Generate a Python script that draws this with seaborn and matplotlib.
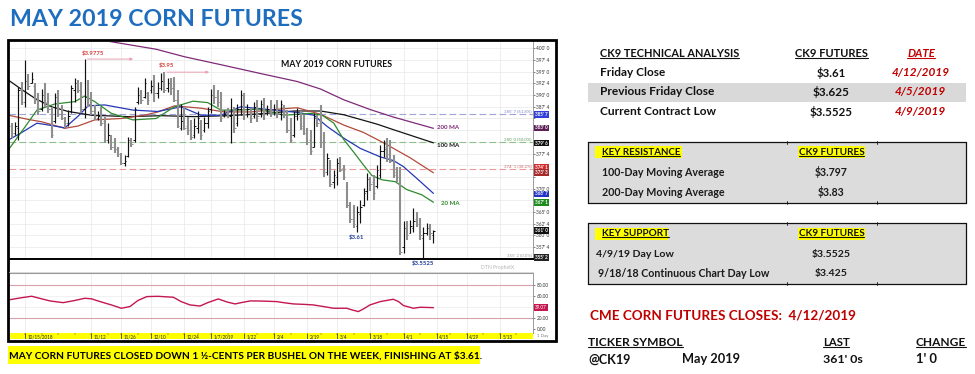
import numpy as np
import pandas as pd
import matplotlib.pyplot as plt
import seaborn as sns
from matplotlib.lines import Line2D
from matplotlib.patches import Rectangle

sns.set_theme(style='white')
plt.rcParams['font.family'] = ['Lato', 'DejaVu Sans']

# trading days (exchange holidays taken out)
holidays = ['2018-11-22', '2018-12-05', '2018-12-25', '2019-01-01',
            '2019-01-21', '2019-02-18', '2019-04-19', '2019-05-27']
days = pd.bdate_range('2018-10-09', '2019-05-24', freq='C', holidays=holidays)

# daily bars, cents/bu, 10/9/2018 .. 4/12/2019
high = [384.0, 384.3, 391.8, 392.9, 397.4, 394.6, 395.0, 392.5, 390.4, 391.4,
        392.5, 390.4, 387.5, 390.4, 391.1, 387.9, 385.4, 386.8, 392.2, 393.6,
        393.2, 392.9, 397.75, 393.2, 390.7, 387.9, 386.5, 387.5, 385.4, 384.0,
        381.5, 380.8, 379.0, 377.6, 377.2, 381.1, 380.8, 387.5, 391.8, 391.1,
        393.6, 390.7, 393.2, 394.3, 392.9, 394.65, 395.0, 393.6, 393.6, 393.9,
        391.1, 388.2, 387.5, 385.4, 384.7, 385.0, 386.5, 384.7, 385.4, 387.5,
        391.4, 392.2, 391.1, 390.7, 386.8, 387.2, 389.3, 387.5, 388.2, 391.1,
        390.4, 388.2, 387.2, 388.6, 389.0, 389.0, 389.3, 387.9, 389.0, 388.2,
        389.0, 389.0, 387.9, 386.8, 385.0, 386.5, 387.2, 386.5, 385.75, 382.9,
        382.5, 386.1, 385.75, 387.9, 382.2, 377.55, 376.1, 374.0, 376.5, 376.8,
        375.1, 371.5, 367.2, 366.5, 366.2, 367.6, 370.1, 373.3, 372.6, 372.9,
        375.1, 379.3, 380.5, 380.75, 380.4, 377.2, 374.7, 374.7, 363.0, 363.0,
        363.3, 365.8, 365.1, 363.7, 361.9, 362.6, 362.5, 361.2]
low = [380.8, 381.5, 380.4, 387.9, 387.5, 391.1, 392.5, 388.2, 385.8, 386.5,
       387.5, 386.1, 380.8, 384.0, 385.4, 384.7, 382.9, 383.3, 386.1, 388.6,
       390.4, 386.1, 385.0, 387.5, 385.75, 384.7, 384.7, 383.3, 379.7, 379.7,
       378.3, 377.6, 376.85, 375.1, 374.85, 376.85, 379.0, 380.05, 388.2, 388.2,
       389.3, 387.9, 390.4, 388.6, 389.3, 391.1, 390.4, 390.7, 390.0, 388.6,
       382.9, 382.5, 382.5, 381.5, 380.4, 380.8, 381.8, 380.4, 382.2, 382.9,
       386.1, 388.2, 387.5, 384.3, 385.4, 385.0, 379.7, 381.8, 383.3, 385.75,
       384.7, 385.4, 384.0, 385.0, 384.3, 385.4, 384.7, 385.75, 385.4, 385.75,
       385.0, 384.7, 385.0, 381.8, 379.7, 381.1, 384.7, 382.5, 381.5, 379.3,
       377.2, 379.0, 383.25, 378.6, 372.6, 372.9, 370.4, 370.1, 370.8, 373.6,
       371.9, 365.8, 362.6, 361.6, 360.8, 362.6, 366.2, 367.6, 369.4, 367.6,
       370.1, 372.2, 376.8, 375.8, 375.4, 372.2, 371.5, 355.9, 356.3, 359.1,
       360.5, 360.8, 361.9, 359.1, 355.25, 360.1, 359.1, 358.4]
opn = [383.5, 382.0, 383.0, 391.0, 388.5, 393.5, 392.5, 392.0, 389.0, 387.0,
       390.0, 388.5, 387.0, 384.5, 389.5, 386.0, 385.0, 384.0, 386.5, 391.0,
       392.5, 391.5, 387.0, 389.5, 388.0, 386.5, 385.0, 385.5, 384.5, 380.5,
       381.0, 379.0, 378.5, 377.0, 375.5, 377.0, 380.5, 380.5, 388.5, 390.0,
       389.5, 390.5, 391.0, 392.0, 390.5, 391.5, 393.0, 391.5, 392.5, 391.0,
       389.0, 383.0, 384.5, 383.5, 382.5, 381.5, 383.0, 384.0, 382.5, 384.0,
       387.0, 390.5, 389.5, 388.5, 385.5, 386.5, 385.5, 386.0, 384.0, 387.0,
       389.5, 386.0, 386.5, 385.5, 388.0, 386.0, 388.0, 386.5, 387.0, 386.5,
       387.5, 386.0, 387.5, 386.0, 382.5, 381.5, 385.5, 385.5, 383.0, 382.0,
       380.5, 379.0, 385.0, 384.5, 380.0, 373.5, 375.5, 371.5, 372.5, 375.5,
       374.5, 371.0, 366.5, 363.5, 362.0, 364.5, 366.5, 369.5, 372.0, 371.5,
       370.5, 373.0, 378.0, 379.0, 377.0, 376.0, 373.0, 372.0, 357.5, 361.5,
       360.5, 361.5, 363.5, 362.5, 359.5, 360.5, 361.0, 360.0]
close = [382.0, 383.5, 391.0, 388.5, 393.0, 392.0, 393.5, 389.0, 386.5, 390.0,
         388.5, 387.0, 381.5, 389.5, 386.0, 385.0, 384.0, 385.5, 391.5, 392.5,
         391.0, 387.0, 389.5, 388.0, 386.5, 385.5, 385.5, 384.0, 380.5, 381.5,
         379.0, 378.5, 377.5, 375.5, 376.0, 380.5, 379.5, 387.0, 390.0, 389.0,
         392.5, 389.0, 392.0, 390.5, 391.5, 393.0, 391.0, 392.5, 391.5, 389.0,
         383.5, 384.5, 383.0, 382.5, 381.0, 383.5, 385.0, 381.5, 384.0, 386.5,
         390.0, 389.5, 388.5, 385.0, 386.0, 385.5, 386.5, 383.0, 387.0, 390.0,
         386.0, 387.0, 385.0, 387.5, 385.5, 388.0, 386.0, 387.0, 386.5, 387.0,
         386.0, 388.0, 386.5, 382.5, 380.5, 385.5, 386.0, 383.5, 382.0, 380.0,
         378.0, 385.0, 384.0, 380.0, 373.5, 376.5, 371.0, 373.0, 375.5, 374.0,
         372.5, 366.5, 363.5, 362.5, 365.0, 366.0, 369.0, 372.0, 371.0, 369.0,
         374.0, 378.0, 378.5, 377.5, 376.0, 373.5, 372.5, 356.5, 361.5, 360.0,
         362.0, 363.0, 362.5, 360.0, 360.5, 361.5, 360.5, 361.0]

# moving averages (bar index, cents)
ma200_x = [25, 30, 43.5, 52, 63.6, 75, 86, 93, 100, 108, 115, 121, 127]
ma200_v = [402.0, 401.4, 399.8, 398.2, 396.4, 394.6, 392.9, 391.3, 389.0, 386.9, 385.3, 384.1, 382.9]
ma100_x = [-1, 3, 7, 12, 17, 24, 35, 45, 55, 65, 75, 85, 93, 100, 105, 110, 115, 121, 127]
ma100_v = [393.2, 391.2, 389.3, 387.5, 386.5, 385.7, 385.4, 385.6, 385.4, 385.6, 386.0, 386.6,
           386.6, 385.8, 384.8, 383.8, 382.6, 381.2, 379.8]
ma50_x = [-1, 5, 9, 16, 20, 25, 33, 40, 44, 49, 57, 64, 72, 82, 86, 93, 100, 106, 112, 120, 127]
ma50_v = [385.7, 384.8, 384.3, 382.9, 383.4, 384.7, 385.0, 385.7, 386.4, 387.7, 387.2, 386.4,
          386.4, 387.1, 387.3, 385.9, 383.6, 382.0, 379.8, 376.6, 373.4]
ma40_x = [-1, 3, 7.6, 12, 16, 20, 23, 28, 36.5, 44, 51, 57, 63, 69, 79, 86, 91, 95, 100, 105,
          111, 115, 118, 122, 127]
ma40_v = [380.4, 382.0, 384.0, 383.5, 383.0, 385.5, 387.7, 387.9, 386.8, 386.5, 387.5, 385.7,
          385.7, 387.5, 386.8, 386.3, 385.7, 383.3, 380.8, 378.6, 376.8, 376.0, 374.7, 372.2, 369.0]
ma20_x = [-1, 4, 7.6, 13, 19, 22, 25, 30, 36.5, 43.5, 49, 54.6, 59, 63, 68, 74.5, 82, 90, 93.5,
          97, 100, 103, 106, 108.5, 111.5, 115.5, 119, 123.5, 127]
ma20_v = [378.3, 383.2, 386.8, 388.1, 388.6, 389.8, 388.6, 386.1, 384.7, 385.0, 387.5, 388.7,
          388.4, 386.8, 386.8, 387.0, 385.7, 386.1, 385.7, 384.0, 380.5, 377.8, 375.0, 372.8,
          371.9, 371.5, 369.8, 368.7, 367.1]

# lower study
rsi_x = [-1, 3, 6, 9, 11.5, 15.5, 19, 22, 24, 26.6, 30, 33, 35.6, 38, 40.7, 44, 48.7, 51,
         53.7, 56.7, 59, 62.2, 65, 67.3, 69, 71.8, 75, 79.8, 82, 84.8, 88, 90.8, 94, 96.9,
         100.9, 102.5, 104.4, 106, 107.9, 111, 114.9, 116.5, 118, 121, 123, 127]
rsi_v = [53, 57, 59.6, 55, 51.2, 48.1, 52, 56, 55, 50, 44, 38, 41, 52, 59, 59.5, 57.8, 50,
         44, 42, 48, 54.8, 49, 45.8, 48, 51.2, 51, 50, 48, 45.8, 45, 44, 41, 38,
         38, 35, 32, 37, 44, 50, 54.2, 50, 42.8, 38, 39.8, 39.1]

tick_dates = ['2018-10-15', '2018-11-12', '2018-11-26', '2018-12-10', '2018-12-24',
              '2019-01-07', '2019-01-22', '2019-02-04', '2019-02-19', '2019-03-04',
              '2019-03-18', '2019-04-01', '2019-04-15', '2019-04-29', '2019-05-13']
tick_text = ['10/15/2018', '11/12', '11/26', '12/10', '12/24', '1/7/2019', '1/22', '2/4',
             '2/19', '3/4', '3/18', '4/1', '4/15', '4/29', '5/13']

fibs = [(385.875, "385' 7 (61.8%)", '#9ea4d8', '#7f88c9'),
        (380.0, "380' 0 (50.0%)", '#8cc08c', '#5e9e5e'),
        (374.125, "374' 1 (38.2%)", '#e69a9a', '#d06a6a')]

value_boxes = [(385.875, "385' 7", '#2f3fd8'), (383.0, "383' 0", '#5b1f55'),
               (379.75, "379' 6", '#111111'), (374.6, "374' 1", '#d22b2b'),
               (373.4, "373' 3", '#a52a2a'), (368.9, "368' 7", '#2433c4'),
               (367.1, "367' 1", '#1d8c1d'), (361.0, "361' 0", '#111111'),
               (355.25, "355' 2", '#222222')]

W, H = 975, 374
fig = plt.figure(figsize=(W / 100, H / 100), dpi=100)
fig.patch.set_facecolor('white')
rend = fig.canvas.get_renderer()


def rect(x0, y0, x1, y1):
    return [x0 / W, 1 - y1 / H, (x1 - x0) / W, (y1 - y0) / H]


def box(x0, y0, x1, y1, **kw):
    fig.add_artist(Rectangle((x0 / W, 1 - y1 / H), (x1 - x0) / W, (y1 - y0) / H,
                             transform=fig.transFigure, **kw))


def hline(x0, x1, y, **kw):
    fig.add_artist(Line2D([x0 / W, x1 / W], [1 - y / H] * 2, transform=fig.transFigure, **kw))


def vline(x, y0, y1, **kw):
    fig.add_artist(Line2D([x / W] * 2, [1 - y0 / H, 1 - y1 / H], transform=fig.transFigure, **kw))


def put(x, y, s, size, fit=None, under=False, **kw):
    t = fig.text(x / W, 1 - y / H, s, fontsize=size, va='center', **kw)
    if fit:
        t.set_fontsize(size * fit / t.get_window_extent(rend).width)
    if under:
        bb = t.get_window_extent(rend)
        fig.add_artist(Line2D([bb.x0 / W, bb.x1 / W], [(bb.y0 + 1.3) / H] * 2,
                              transform=fig.transFigure, color=t.get_color(), lw=0.8))
    return t


xlim = (-0.97, 157.0)
bars = np.arange(len(close))
tick_pos = [days.get_loc(pd.Timestamp(d)) for d in tick_dates]
mondays = [i for i, d in enumerate(days) if d.weekday() == 0]

# ---- price panel
ax = fig.add_axes(rect(8.5, 41.7, 533, 259.3))
ax.set_xlim(*xlim)
ax.set_ylim(354.91, 401.41)
pticks = np.arange(355, 400.1, 2.5)
box_prices = [b[0] for b in value_boxes]
plabels = []
for p in pticks:
    hidden = min(abs(p - b) for b in box_prices) < 0.95
    plabels.append('' if hidden else f"{int(p)}' {int(round(p % 1 * 8))}")
ax.set_yticks(pticks)
ax.set_yticklabels(plabels, fontsize=3.4, color='#333333')
ax.yaxis.tick_right()
ax.tick_params(axis='y', length=1.5, width=0.4, pad=1, right=True)
ax.set_xticks(tick_pos)
ax.tick_params(axis='x', length=0, labelbottom=False)
ax.grid(True, color='#e8e8e8', lw=0.5)
for s in ['left', 'top']:
    ax.spines[s].set_visible(False)
ax.spines['bottom'].set_color('black')
ax.spines['bottom'].set_linewidth(1.4)
ax.spines['right'].set_color('#8a8a8a')
ax.spines['right'].set_linewidth(0.6)

for price, txt, lc, tc in fibs:
    ax.axhline(price, color=lc, lw=0.8, ls=(0, (6, 3)), zorder=1)
    ax.text(0.997, price + 0.15, txt, transform=ax.get_yaxis_transform(), ha='right', va='bottom',
            fontsize=3.2, color=tc)
ax.text(0.997, 355.25, "355' 2 (0.0%)", transform=ax.get_yaxis_transform(), ha='right',
        va='bottom', fontsize=3.2, color='#9a9a9a')

ma_lines = [(ma200_x, ma200_v, '#7d2a78'), (ma100_x, ma100_v, '#151515'),
            (ma50_x, ma50_v, '#b24a3c'), (ma40_x, ma40_v, '#2438b8'),
            (ma20_x, ma20_v, '#2f8a2f')]
for xs, vs, col in ma_lines:
    sns.lineplot(x=xs, y=vs, ax=ax, color=col, lw=0.9, estimator=None, sort=False, zorder=3)

up = np.array(close) >= np.array(opn)
for mask, col, w in [(up, '#111111', 0.85), (~up, '#8e8e8e', 1.5)]:
    ax.vlines(bars[mask], np.array(low)[mask], np.array(high)[mask], color=col, lw=w, zorder=4)
    ax.hlines(np.array(opn)[mask], bars[mask] - 0.45, bars[mask], color=col, lw=0.7, zorder=4)
    ax.hlines(np.array(close)[mask], bars[mask], bars[mask] + 0.45, color=col, lw=0.7, zorder=4)

ax.text(81.1, 396.6, 'MAY 2019 CORN FUTURES', fontsize=6.3, weight='bold', color='#111111',
        va='center')
ax.text(24.6, 398.9, '$3.9775', fontsize=4.3, weight='bold', color='#d23a3a', ha='center', va='center')
ax.annotate('', xy=(37.4, 397.7), xytext=(22, 397.7),
            arrowprops=dict(arrowstyle='-|>', color='#e9a3b3', lw=0.7, mutation_scale=4))
ax.text(46.5, 396.4, '$3.95', fontsize=4.3, weight='bold', color='#d23a3a', ha='center', va='center')
ax.annotate('', xy=(60.3, 394.9), xytext=(46, 394.9),
            arrowprops=dict(arrowstyle='-|>', color='#e9a3b3', lw=0.7, mutation_scale=4))
ax.text(103.8, 359.7, '$3.61', fontsize=4.3, weight='bold', color='#1f3a93', ha='center', va='center')
ax.text(124, 354.05, '$3.5525', fontsize=4.3, weight='bold', color='#1f3a93', ha='center',
        va='center', clip_on=False)
ax.text(128.1, 383.0, '200 MA', fontsize=4.4, weight='bold', color='#7d2a78', va='center')
ax.text(128.1, 379.2, '100 MA', fontsize=4.4, weight='bold', color='#151515', va='center')
ax.text(129.3, 366.9, '20 MA', fontsize=4.4, weight='bold', color='#2f8a2f', va='center')

for price, txt, col in value_boxes:
    ax.text(1.004, price, txt, transform=ax.get_yaxis_transform(), fontsize=3.3, color='white',
            va='center', ha='left', weight='bold',
            bbox=dict(boxstyle='square,pad=0.18', fc=col, ec='none'))
ax.set_xlabel('')
ax.set_ylabel('')

# ---- lower study panel
ax2 = fig.add_axes(rect(8.5, 272.7, 533, 332.7))
ax2.set_xlim(*xlim)
ax2.set_ylim(-6, 102)
ax2.set_yticks([0, 20, 60, 80])
ax2.set_yticklabels(['0.00', '20.00', '60.00', '80.00'], fontsize=3.4, color='#333333')
ax2.yaxis.tick_right()
ax2.tick_params(axis='y', length=1.5, width=0.4, pad=1, right=True)
ax2.set_xticks(tick_pos)
ax2.tick_params(axis='x', length=0, labelbottom=False)
ax2.grid(True, axis='x', color='#e8e8e8', lw=0.5)
for s in ['left', 'bottom']:
    ax2.spines[s].set_visible(False)
ax2.spines['top'].set_color('#9a9a9a')
ax2.spines['top'].set_linewidth(0.8)
ax2.spines['right'].set_color('#8a8a8a')
ax2.spines['right'].set_linewidth(0.6)
for lev in [80, 20]:
    ax2.axhline(lev, color='#d7a3ad', lw=0.8)
for lev in [60, 40]:
    ax2.axhline(lev, color='#ececec', lw=0.5)
sns.lineplot(x=rsi_x, y=rsi_v, ax=ax2, color='#c4164f', lw=1.0, estimator=None, sort=False)
ax2.text(1.004, 39.07, '39.07', transform=ax2.get_yaxis_transform(), fontsize=3.3, color='white',
         va='center', ha='left', bbox=dict(boxstyle='square,pad=0.18', fc='#c4164f', ec='none'))
ax2.set_xlabel('')
ax2.set_ylabel('')

# ---- date strip
ax3 = fig.add_axes(rect(8.5, 332.7, 533, 339.3))
ax3.set_facecolor('#ffff00')
ax3.set_xlim(*xlim)
ax3.set_ylim(0, 1)
ax3.set_xticks([])
ax3.set_yticks([])
for s in ax3.spines.values():
    s.set_visible(False)
ax3.vlines(mondays, 0.65, 1, color='#333333', lw=0.3)
ax3.vlines(tick_pos, 0, 1, color='#222222', lw=0.5)
for p, t in zip(tick_pos, tick_text):
    ax3.text(p + 0.8, 0.42, t, fontsize=3.3, color='#222222', va='center', ha='left')
put(537, 336, '1 Day', 3.2, color='#777777')

# chart frame and the gap between panels
hline(8.5, 533, 271.5, color='#d0d0d0', lw=0.6)
put(481, 267, 'DTN ProphetX', 3.6, color='#b5b5b5')
box(7.5, 40, 556, 340.5, fill=False, ec='black', lw=2)

# ---- headline and caption
put(10, 19, 'MAY 2019 CORN FUTURES', 18, fit=293, weight='bold', color='#1f6dbf')
box(8, 346, 480, 364, fc='#ffff00', ec='none')
put(9, 355.5, 'MAY CORN FUTURES CLOSED DOWN 1 \u00bd-CENTS PER BUSHEL ON THE WEEK, FINISHING AT $3.61.',
    8, fit=468, weight='bold', color='black')

# ---- right side tables
ink = '#111111'
red = '#c00000'
box(588, 82.7, 966, 101.7, fc='#d9d9d9', ec='none')
put(600, 53.3, 'CK9 TECHNICAL ANALYSIS', 9, fit=139, weight='bold', under=True, color=ink)
put(831.5, 53.3, 'CK9 FUTURES', 9, fit=73, ha='center', weight='bold', under=True, color=ink)
put(921, 53.3, 'DATE', 9, fit=28, ha='center', weight='bold', style='italic', under=True, color=red)
rows = [('Friday Close', 65, '$3.61', 29, '4/12/2019', 58, 72.7),
        ('Previous Friday Close', 114, '$3.625', 37, '4/5/2019', 51, 91.7),
        ('Current Contract Low', 116, '$3.5525', 43, '4/9/2019', 51, 111.7)]
for name, wn, val, wv, date, wd, y in rows:
    put(600, y, name, 9, fit=wn, weight='bold', color=ink)
    put(831.5, y, val, 9, fit=wv, ha='center', weight='bold', color=ink)
    put(920.5, y, date, 9, fit=wd, ha='center', weight='bold', style='italic', color=red)

levels = [(141.7, 202.7, 'KEY RESISTANCE', 682, 79,
           [('100-Day Moving Average', 121.7, '$3.797', 33, 601.7, 172.3),
            ('200-Day Moving Average', 121.7, '$3.83', 27, 601.7, 192.3)]),
          (223.3, 284.3, 'KEY SUPPORT', 668, 67,
           [('4/9/19 Day Low', 78, '$3.5525', 39, 595.7, 254.3),
            ('9/18/18 Continuous Chart Day Low', 172, '$3.425', 33, 598, 273.3)])]
for y0, y1, head, hx, hw, items in levels:
    box(588, y0, 966, y1, fc='#dcdcdc', ec='none')
    hline(588, 966, y0, color=ink, lw=0.9)
    hline(588, 966, y1, color=ink, lw=0.9)
    vline(588, y0, y1, color=ink, lw=0.9)
    vline(966, y0, y1, color=ink, lw=0.9)
    for xc in [787, 877]:
        vline(xc, y0 - 1, y0 + 2, color=ink, lw=0.6)
        vline(xc, y1 - 2, y1 + 1, color=ink, lw=0.6)
    yh = y0 + 10.6
    box(595, yh - 6, hx, yh + 6, fc='#ffff00', ec='none')
    box(798, yh - 6, 865, yh + 6, fc='#ffff00', ec='none')
    put(601.5, yh, head, 9, fit=hw, weight='bold', under=True, color=ink)
    put(831.5, yh, 'CK9 FUTURES', 9, fit=66, ha='center', weight='bold', under=True, color=ink)
    for name, wn, val, wv, x, y in items:
        put(x, y, name, 9, fit=wn, weight='bold', color='#1a1a1a')
        put(831.5, y, val, 9, fit=wv, ha='center', weight='bold', color='#1a1a1a')

put(590, 315, 'CME CORN FUTURES CLOSES:  4/12/2019', 13, fit=265, weight='bold', color=red)
put(588, 342.7, 'TICKER SYMBOL', 10, fit=94, under=True, weight='bold', color=ink)
put(822.7, 342.7, 'LAST', 10, fit=27, under=True, weight='bold', color=ink)
put(916, 342.7, 'CHANGE', 10, fit=50, under=True, weight='bold', color=ink)
for x, s, w in [(588, '@CK19', 42), (681.7, 'May 2019', 58), (822.7, "361' 0s", 40), (916, "1' 0", 21)]:
    put(x, 359.3, s, 10, fit=w, weight='bold', color=ink)

fig.savefig('out.png', dpi=100, facecolor='white')
